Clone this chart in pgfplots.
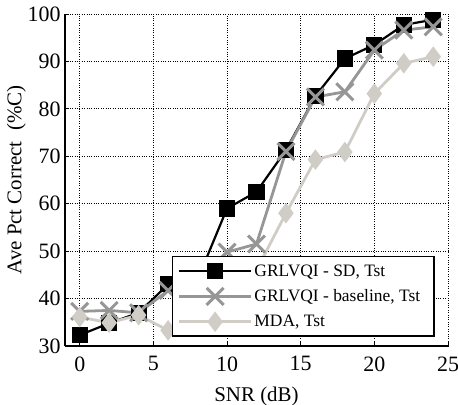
\documentclass[border=0pt]{standalone}
\usepackage{pgfplots}
\pgfplotsset{compat=1.18}
\usepackage{fontspec}
\setmainfont{Liberation Serif}
\definecolor{midgray}{RGB}{150,150,150}
\definecolor{lightgray}{RGB}{208,204,198}
\begin{document}
\begin{tikzpicture}
\begin{axis}[
  scale only axis, width=383bp, height=332bp,
  xmin=-1, xmax=25, ymin=30, ymax=100,
  xtick={0,5,...,25}, ytick={30,40,...,100},
  xticklabel={\textrm{\pgfmathprintnumber[assume math mode=true]{\tick}}},
  yticklabel={\textrm{\pgfmathprintnumber[assume math mode=true]{\tick}}},
  axis x line*=bottom, axis y line*=left,
  axis line style={line width=1.6bp, -},
  grid=major, major grid style={black, dotted, line width=1bp},
  tick style={black, line width=1bp}, tick align=inside,
  ticklabel style={font=\fontsize{22}{24}\selectfont\rmfamily},
  xticklabel style={yshift=-7bp}, yticklabel style={xshift=-1bp},
  xlabel={SNR (dB)}, ylabel={Ave Pct Correct\ \ (\%C)},
  label style={font=\fontsize{21}{23}\selectfont},
  xlabel style={yshift=-9bp}, ylabel style={yshift=-5bp},
  clip=false,
  legend style={at={(0.966,0.027)}, anchor=south east, draw=black,
    line width=1.6bp, font=\fontsize{17.5}{19}\selectfont, cells={anchor=west},
    nodes={inner xsep=2bp},
    row sep=8bp, inner xsep=5bp, inner ysep=6bp},
  legend image code/.code={\draw[mark repeat=2, mark phase=2]
    plot coordinates {(0bp,0bp) (36bp,0bp) (72bp,0bp)};},
]
\addplot[black, line width=2.2bp, mark=square*, mark size=7bp] coordinates {
  (0,32.3) (2,34.8) (4,37) (6,43) (8,44) (10,59) (12,62.5)
  (14,71.3) (16,82.7) (18,90.6) (20,93.5) (22,97.7) (24,98.8)
};
\addlegendentry{GRLVQI - SD, Tst}
\addplot[midgray, line width=2.8bp, mark=x, mark size=12bp,
  mark options={line width=3bp}] coordinates {
  (0,37.3) (2,37.5) (4,37) (6,41.7) (8,44) (10,49.8) (12,51.5)
  (14,71) (16,82.5) (18,83.6) (20,92.4) (22,96.6) (24,97.3)
};
\addlegendentry{GRLVQI - baseline, Tst\hspace*{7bp}}
\addplot[lightgray, line width=2.8bp, mark=diamond*, mark size=8bp] coordinates {
  (0,36.1) (2,34.9) (4,36.5) (6,33.3) (8,36) (10,40) (12,46)
  (14,58) (16,69.3) (18,70.9) (20,83.2) (22,89.6) (24,91)
};
\addlegendentry{MDA, Tst}
\end{axis}
\pgfresetboundingbox
\path[use as bounding box] (current axis.south west) ++(-65bp,-59bp)
  rectangle ([shift={(10bp,14bp)}]current axis.north east);
\end{tikzpicture}
\end{document}
